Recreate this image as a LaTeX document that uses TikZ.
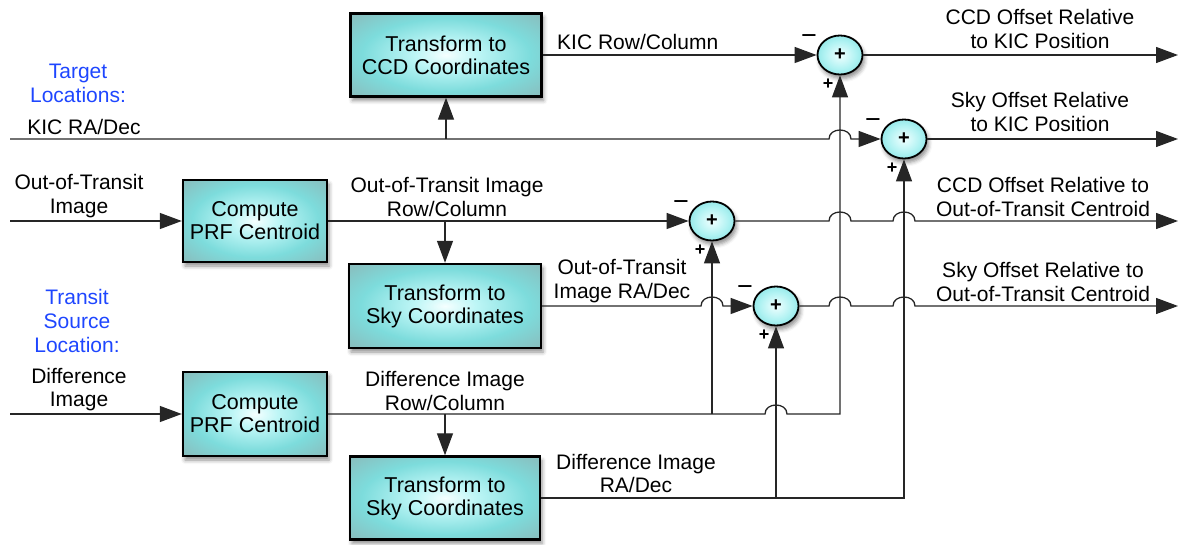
\documentclass[tikz,border=0pt]{standalone}
\usepackage{fontspec}
\setmainfont{Liberation Sans}
\usetikzlibrary{arrows.meta,shadows.blur,shapes.geometric,calc}
\definecolor{bc0}{RGB}{245,255,255}
\definecolor{bc1}{RGB}{190,246,246}
\definecolor{bc2}{RGB}{125,220,220}
\definecolor{bc3}{RGB}{140,182,182}
\definecolor{bc4}{RGB}{150,166,166}
\definecolor{sc0}{RGB}{240,255,255}
\definecolor{sc1}{RGB}{175,242,242}
\definecolor{sc2}{RGB}{100,214,216}
\definecolor{sc3}{RGB}{80,190,196}
\definecolor{lblue}{RGB}{30,70,255}
\pgfdeclareradialshading{boxshade}{\pgfpoint{0bp}{0bp}}{color(0bp)=(bc0); color(8bp)=(bc1); color(22bp)=(bc2); color(38bp)=(bc3); color(50bp)=(bc4)}
\pgfdeclareradialshading{sumshade}{\pgfpoint{0bp}{0bp}}{color(0bp)=(sc0); color(18bp)=(sc1); color(40bp)=(sc2); color(50bp)=(sc3)}
\newcommand\hopat[1]{-- ([xshift=-11pt]#1) .. controls ([xshift=-11pt,yshift=12pt]#1) and ([xshift=11pt,yshift=12pt]#1) .. ([xshift=11pt]#1)}
\begin{document}
\begin{tikzpicture}[x=1pt,y=-1pt,
  procbox/.style n args={2}{draw=black, line width=2.4pt, shade, shading=boxshade,
    minimum width=#1pt, minimum height=#2pt, inner sep=0pt, align=center,
    font=\fontsize{21.5}{23}\selectfont,
    blur shadow={shadow xshift=2pt, shadow yshift=-4pt, shadow blur radius=4pt, shadow opacity=45}},
  sumnode/.style={ellipse, draw=black, line width=1.8pt, shade, shading=sumshade,
    minimum width=45pt, minimum height=39pt, inner sep=0pt,
    font=\bfseries\fontsize{20}{20}\selectfont,
    blur shadow={shadow xshift=2pt, shadow yshift=-4pt, shadow blur radius=4pt, shadow opacity=45}},
  conn/.style={draw=black!85, line width=1.3pt, -{Triangle[length=22pt,width=16pt]}},
  lab/.style={align=center, font=\fontsize{21}{24}\selectfont, inner sep=0pt, anchor=base},
  blab/.style={lab, text=lblue},
  sgn/.style={inner sep=0pt, font=\bfseries\fontsize{18}{18}\selectfont},
  msgn/.style={inner sep=0pt, font=\fontsize{27}{27}\selectfont}]
\useasboundingbox (0,0) rectangle (1179,545);

% blocks
\node[procbox={191}{83}] (A) at (446,55) {Transform to\\CCD Coordinates};
\node[procbox={144}{82}] (B) at (255,221) {Compute\\PRF Centroid};
\node[procbox={192}{84}] (C) at (445,306) {Transform to\\Sky Coordinates};
\node[procbox={144}{84}] (D) at (255,414) {Compute\\PRF Centroid};
\node[procbox={190}{83}] (E) at (445,498) {Transform to\\Sky Coordinates};

% summing junctions
\node[sumnode] (S1) at (840,55) {+};
\node[sumnode] (S2) at (904,139) {+};
\node[sumnode] (S3) at (712,221) {+};
\node[sumnode] (S4) at (776,306) {+};

% signs
\node[msgn] (m1) at ($(S1)+(-31,-15)$) {−};
\node[sgn] (p1) at ($(S1)+(-12,29)$) {+};
\node[msgn] (m2) at ($(S2)+(-31,-15)$) {−};
\node[sgn] (p2) at ($(S2)+(-12,29)$) {+};
\node[msgn] (m3) at ($(S3)+(-31,-15)$) {−};
\node[sgn] (p3) at ($(S3)+(-12,29)$) {+};
\node[msgn] (m4) at ($(S4)+(-31,-15)$) {−};
\node[sgn] (p4) at ($(S4)+(-12,29)$) {+};

% free ends and junctions
\coordinate (kicin) at (10,139);
\coordinate (oitin) at (10,221);
\coordinate (difin) at (10,414);
\coordinate (o1) at (1178,55);
\coordinate (o2) at (1178,139);
\coordinate (o3) at (1178,221);
\coordinate (o4) at (1178,306);
\coordinate (j1) at (A.south |- kicin);
\coordinate (j2) at (C.north |- B.east);
\coordinate (j3) at (S3.south |- D.east);
\coordinate (j4) at (E.north |- D.east);
\coordinate (j5) at (S1.south |- D.east);
\coordinate (j6) at (S4.south |- E.east);
\coordinate (j7) at (S2.south |- E.east);
\coordinate (hk) at (S1.south |- kicin);
\coordinate (h31) at (S1.south |- S3.east);
\coordinate (h32) at (S2.south |- S3.east);
\coordinate (h41) at (S1.south |- S4.east);
\coordinate (h42) at (S2.south |- S4.east);
\coordinate (hc) at (S3.south |- C.east);
\coordinate (hd) at (S4.south |- D.east);

% connectors
\draw[conn] (kicin) \hopat{hk} -- (S2.west);
\draw[conn] (j1) -- (A.south);
\draw[conn] (A.east) -- (S1.west);
\draw[conn] (oitin) -- (B.west);
\draw[conn] (B.east) -- (S3.west);
\draw[conn] (j2) -- (C.north);
\draw[conn] (C.east) \hopat{hc} -- (S4.west);
\draw[conn] (difin) -- (D.west);
\draw[conn] (D.east) \hopat{hd} -- (j5) -- (S1.south);
\draw[conn] (j3) -- (S3.south);
\draw[conn] (j4) -- (E.north);
\draw[conn] (E.east) -- (j7) -- (S2.south);
\draw[conn] (j6) -- (S4.south);
\draw[conn] (S1.east) -- (o1);
\draw[conn] (S2.east) -- (o2);
\draw[conn] (S3.east) \hopat{h31} \hopat{h32} -- (o3);
\draw[conn] (S4.east) \hopat{h41} \hopat{h42} -- (o4);

% labels (anchor = baseline of the last line)
\node[blab] (tl) at (78,103) {Target\\Locations:};
\node[lab] (kic) at (84,135) {KIC RA/Dec};
\node[lab] (oit) at (79,214) {Out-of-Transit\\Image};
\node[blab] (tsl) at (77,353) {Transit\\Source\\Location:};
\node[lab] (dif) at (79,407) {Difference\\Image};
\node[lab, anchor=base west] (krc) at (557,50) {KIC Row/Column};
\node[lab] (oirc) at (447,217) {Out-of-Transit Image\\Row/Column};
\node[lab] (oird) at (622,299) {Out-of-Transit\\Image RA/Dec};
\node[lab] (dirc) at (445,410) {Difference Image\\Row/Column};
\node[lab] (dird) at (636,493) {Difference Image\\RA/Dec};
\node[lab] (r1) at (1040,49) {CCD Offset Relative\\to KIC Position};
\node[lab] (r2) at (1040,132) {Sky Offset Relative\\to KIC Position};
\node[lab] (r3) at (1043,217) {CCD Offset Relative to\\Out-of-Transit Centroid};
\node[lab] (r4) at (1043,302) {Sky Offset Relative to\\Out-of-Transit Centroid};
\end{tikzpicture}
\end{document}
